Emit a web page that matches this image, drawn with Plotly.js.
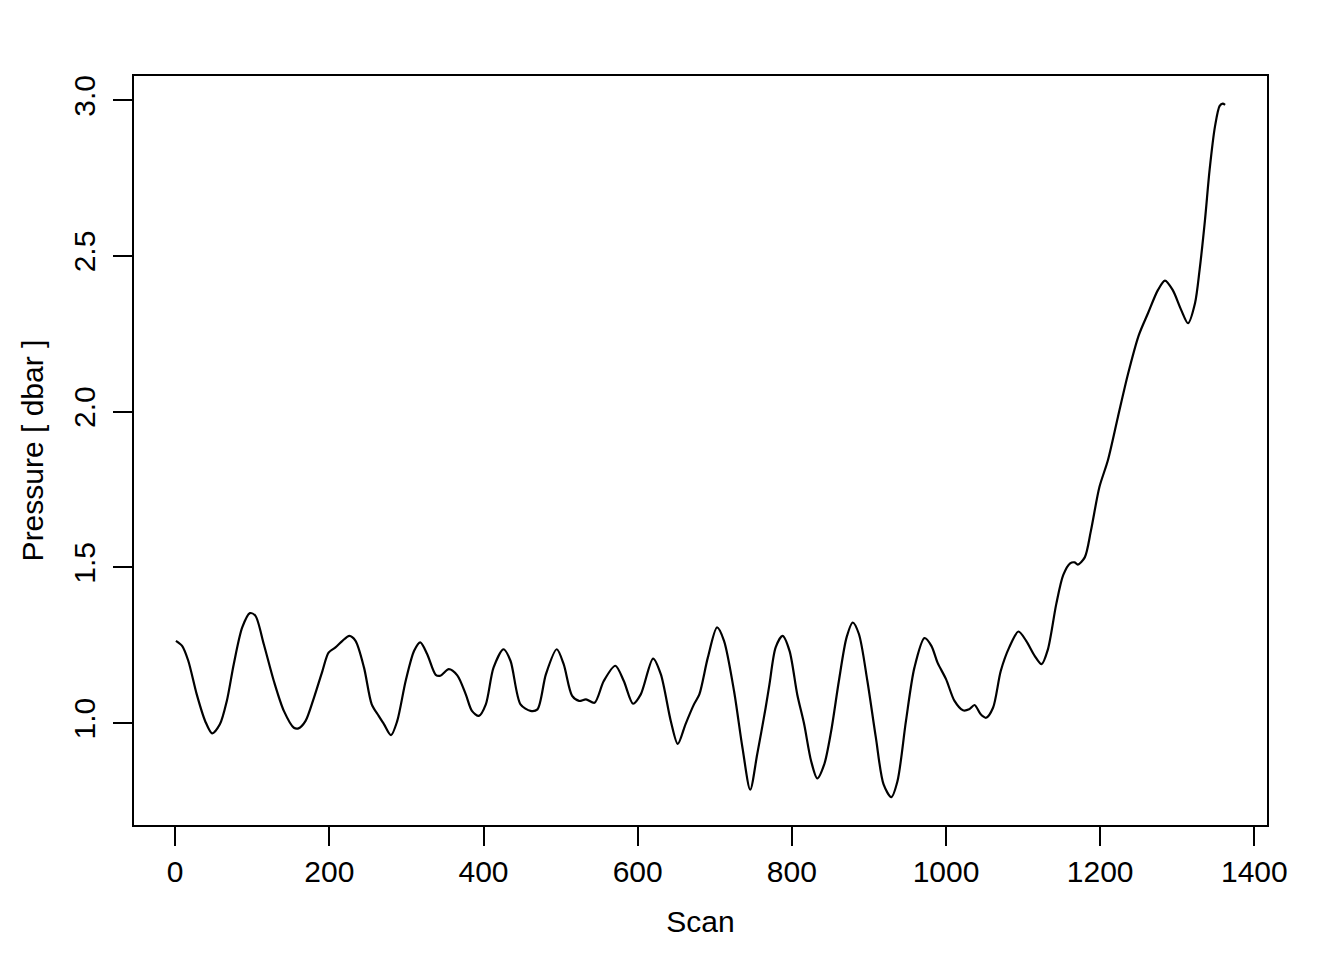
<!DOCTYPE html>
<html>
<head>
<meta charset="utf-8">
<script src="https://cdn.plot.ly/plotly-3.0.1.min.js"></script>
<style>html,body{margin:0;padding:0;background:#fff;}#chart{width:1344px;height:960px;}</style>
</head>
<body>
<div id="chart"></div>
<script>
const scan = [1,9,17,28,39,48,58,67,76,87,97,104,115,128,141,154,160,169,180,191,199,208,217,226,234,245,255,264,271,280,288,299,310,318,327,338,344,355,366,377,385,394,403,413,426,435,448,461,470,481,495,504,515,524,533,544,556,571,582,594,604,620,630,643,652,662,673,680,691,703,712,725,736,746,755,766,771,779,788,797,807,816,825,833,842,851,861,871,879,887,898,909,919,929,937,948,959,972,981,989,1000,1011,1022,1030,1037,1045,1052,1061,1071,1082,1094,1104,1115,1124,1132,1143,1152,1161,1167,1171,1180,1188,1199,1210,1223,1236,1250,1262,1275,1284,1294,1305,1314,1323,1329,1336,1342,1349,1355,1359,1362];
const pressure = [1.264,1.248,1.200,1.092,1.006,0.967,0.996,1.071,1.189,1.307,1.353,1.345,1.253,1.135,1.039,0.985,0.983,1.006,1.081,1.167,1.226,1.243,1.264,1.280,1.264,1.178,1.060,1.023,0.996,0.961,1.006,1.135,1.232,1.259,1.221,1.155,1.152,1.173,1.153,1.092,1.039,1.023,1.060,1.178,1.237,1.200,1.060,1.039,1.044,1.157,1.237,1.189,1.087,1.071,1.076,1.065,1.135,1.184,1.135,1.062,1.092,1.207,1.157,1.006,0.933,0.996,1.060,1.092,1.210,1.307,1.264,1.103,0.920,0.786,0.899,1.049,1.125,1.243,1.280,1.232,1.092,0.996,0.878,0.822,0.867,0.974,1.135,1.275,1.323,1.286,1.135,0.953,0.803,0.762,0.813,1.006,1.178,1.273,1.248,1.194,1.141,1.071,1.041,1.044,1.058,1.028,1.017,1.049,1.167,1.243,1.294,1.264,1.216,1.189,1.235,1.382,1.475,1.513,1.516,1.509,1.532,1.618,1.758,1.844,1.983,2.120,2.245,2.316,2.391,2.421,2.391,2.327,2.284,2.348,2.456,2.617,2.778,2.917,2.982,2.989,2.985];
const xTicks = [0,200,400,600,800,1000,1200,1400];
const yTicks = [1.0,1.5,2.0,2.5,3.0];
const yTickText = ["1.0","1.5","2.0","2.5","3.0"];
const xTitle = "Scan";
const yTitle = "Pressure [ dbar ]";

const font = {family: "Liberation Sans, Arial, Helvetica, sans-serif", size: 30, color: "#000"};

const trace = {
  x: scan, y: pressure, type: "scatter", mode: "lines",
  line: {color: "#000", width: 2.2, shape: "spline", smoothing: 0.8},
  hoverinfo: "skip"
};

const layout = {
  width: 1344, height: 960,
  paper_bgcolor: "#fff", plot_bgcolor: "#fff",
  margin: {l: 134, r: 77, t: 76, b: 135, pad: 0},
  showlegend: false,
  font: font,
  xaxis: {
    range: [-53.4, 1416.4], autorange: false,
    tickmode: "array", tickvals: xTicks, ticktext: xTicks.map(String),
    ticks: "outside", ticklen: 19, tickwidth: 2, tickcolor: "#000",
    showline: true, linecolor: "#000", linewidth: 2, mirror: true,
    showgrid: false, zeroline: false,
    tickfont: font, ticklabelstandoff: 0,
    title: {text: xTitle, font: font, standoff: 24},
    automargin: false
  },
  yaxis: {
    range: [0.6726, 3.078], autorange: false,
    tickmode: "array", tickvals: yTicks, ticktext: yTickText,
    ticks: "outside", ticklen: 19, tickwidth: 2, tickcolor: "#000",
    showline: true, linecolor: "#000", linewidth: 2, mirror: true,
    showgrid: false, zeroline: false,
    tickangle: -90,
    tickfont: font, ticklabelstandoff: 6,
    title: {text: yTitle, font: font, standoff: 16},
    automargin: false
  }
};

Plotly.newPlot("chart", [trace], layout, {displayModeBar: false, staticPlot: true});
</script>
</body>
</html>
